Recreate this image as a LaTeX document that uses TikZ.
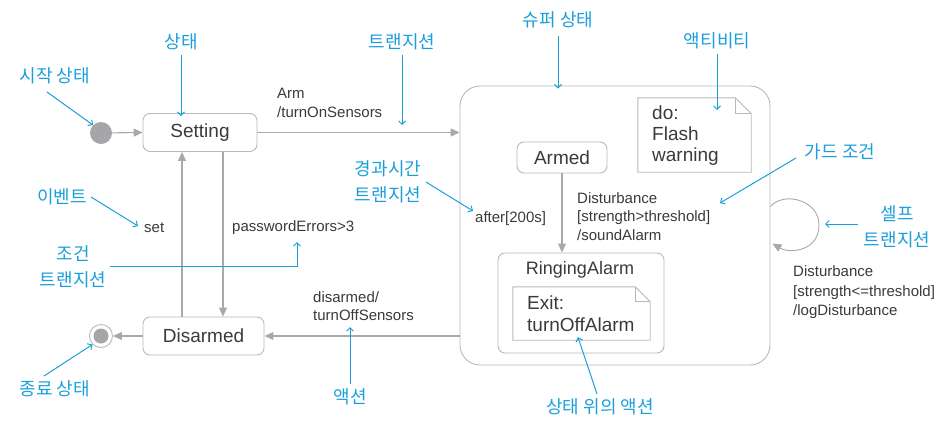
\documentclass[tikz,border=0pt]{standalone}
\usepackage{fontspec}
\setmainfont{Liberation Sans}
\newfontfamily\kr{Noto Sans CJK KR}
\usetikzlibrary{arrows.meta,calc}
\definecolor{linegray}{HTML}{A9A9AB}
\definecolor{boxgray}{HTML}{B8B8BA}
\definecolor{ink}{HTML}{3A3A3A}
\definecolor{callout}{HTML}{1B9FDB}
\definecolor{dotgray}{HTML}{A6A6A8}

\begin{document}
\begin{tikzpicture}[x=1pt,y=-1pt,
  statebox/.style={draw=boxgray, line width=0.9pt, rounded corners=7pt, text=ink,
    font=\fontsize{19}{22}\selectfont, inner sep=0pt},
  notebox/.style={draw=none, inner sep=0pt},
  notetext/.style={text=ink, font=\fontsize{19}{22}\selectfont, align=left, anchor=west, inner sep=0pt},
  flow/.style={draw=linegray, line width=1.1pt, -{Triangle[length=9pt,width=8pt]}},
  lbl/.style={text=ink, font=\fontsize{15}{18.5}\selectfont, align=left, anchor=west, inner sep=0pt},
  call/.style={text=callout, font=\kr\fontsize{18}{26}\selectfont, align=center, inner sep=0pt},
  point/.style={draw=callout, line width=1pt, -{Straight Barb[length=3.5pt,width=7pt]}},
]
\useasboundingbox (0,0) rectangle (942,421);

% ---- states ----
\node[circle, fill=dotgray, minimum size=22pt, inner sep=0pt] (init) at (101,133) {};
\node[statebox, minimum width=114pt, minimum height=38pt] (setting) at (200,132.5) {Setting};
\node[statebox, minimum width=121pt, minimum height=38pt] (disarmed) at (203.5,336) {Disarmed};
\node[circle, draw=boxgray, line width=0.9pt, minimum size=23pt, inner sep=0pt] (final) at (101,336) {};
\node[circle, fill=dotgray, minimum size=15pt, inner sep=0pt] (finaldot) at (final) {};

% super state and its contents
\node[draw=boxgray, line width=0.9pt, rounded corners=20pt, minimum width=310pt,
  minimum height=279pt, inner sep=0pt] (super) at (615,225.5) {};
\node[statebox, minimum width=90pt, minimum height=31pt] (armed) at (562,157.5) {Armed};
\node[draw=boxgray, line width=0.9pt, rounded corners=7pt, minimum width=166pt,
  minimum height=100pt, inner sep=0pt] (ring) at (581,303) {};
\node[text=ink, font=\fontsize{18}{22}\selectfont, inner sep=0pt] (ringtitle) at (580,270) {RingingAlarm};

% activity note (dog-eared corner)
\node[notebox, minimum width=113pt, minimum height=74pt] (act) at (694.5,135) {};
\draw[boxgray, line width=0.9pt] (act.south west) -- (act.north west)
  -- ([xshift=-16pt]act.north east) -- ([yshift=-16pt]act.north east)
  -- (act.south east) -- cycle;
\draw[boxgray, line width=0.9pt] ([xshift=-16pt]act.north east) |- ([yshift=-16pt]act.north east);
\node[notetext, font=\fontsize{19}{21}\selectfont] (acttext) at (652,136) {do:\\Flash\\warning};

% exit note (dog-eared corner)
\node[notebox, minimum width=137pt, minimum height=53pt] (exitn) at (581.5,313.5) {};
\draw[boxgray, line width=0.9pt] (exitn.south west) -- (exitn.north west)
  -- ([xshift=-15pt]exitn.north east) -- ([yshift=-15pt]exitn.north east)
  -- (exitn.south east) -- cycle;
\draw[boxgray, line width=0.9pt] ([xshift=-15pt]exitn.north east) |- ([yshift=-15pt]exitn.north east);
\node[notetext] (exittext) at (527,314) {Exit:\\turnOffAlarm};

% ---- transitions ----
\draw[flow] (init) -- (setting.west);
\draw[flow] (setting.east) -- (setting -| super.west);
\draw[flow] ([xshift=23pt]setting.south) -- ([xshift=23pt]setting.south |- disarmed.north);
\draw[flow] ([xshift=-18pt]setting.south |- disarmed.north) -- ([xshift=-18pt]setting.south);
\draw[flow] (super.west |- disarmed) -- (disarmed.east);
\draw[flow] (disarmed.west) -- (final);
\draw[flow] (armed.south) -- (armed |- ring.north);
\coordinate (loopout) at ($(super.east)+(0,-19)$);
\coordinate (loopin) at ($(super.east)+(2,18)$);
\draw[flow, line width=0.9pt] (loopout) .. controls (784,191) and (819,200) .. (819,225)
  .. controls (819,251) and (790,254) .. (loopin);

% transition labels
\node[lbl] (armlbl) at (277,103) {Arm\\/turnOnSensors};
\node[lbl] (setlbl) at (144,228) {set};
\node[lbl] (pwlbl) at (232,228) {passwordErrors>3};
\node[lbl] (offlbl) at (313,306) {disarmed/\\turnOffSensors};
\node[lbl] (afterlbl) at (475,219) {after[200s]};
\node[lbl] (distlbl) at (577,216.5) {Disturbance\\{[strength>threshold]}\\/soundAlarm};
\node[lbl, font=\fontsize{15}{19.5}\selectfont] (selflbl) at (793,292.5) {Disturbance\\{[strength<=threshold]}\\/logDisturbance};

% ---- callouts ----
\node[call] (cStart) at (55,76) {시작 상태};
\node[call] (cState) at (181,42) {상태};
\node[call] (cTrans) at (402,42) {트랜지션};
\node[call] (cSuper) at (558,20) {슈퍼 상태};
\node[call] (cAct) at (717,41) {액티비티};
\node[call] (cGuard) at (840,152) {가드 조건};
\node[call] (cTime) at (388,182) {경과시간\\트랜지션};
\node[call] (cEvent) at (62,197) {이벤트};
\node[call] (cCond) at (73,267) {조건\\트랜지션};
\node[call] (cSelf) at (897,227) {셀프\\트랜지션};
\node[call] (cEnd) at (55,389) {종료 상태};
\node[call] (cAction) at (350,397) {액션};
\node[call] (cOnState) at (600,407) {상태 위의 액션};

\draw[point] (47,92) -- (init.north west);
\draw[point] (cState.south) ++(0,5) -- ([yshift=-3pt]setting.north -| cState);
\draw[point] (cTrans.south) ++(0,5) -- (402,125);
\draw[point] (cSuper.south) ++(0,8) -- ([yshift=-3pt]super.north -| cSuper);
\draw[point] (cAct.south) ++(0,5) -- (717,110);
\draw[point] (796,158) -- (720,203);
\draw[point] (426,182) -- ([shift={(-2,-8)}]afterlbl.west);
\draw[point] (cEvent.east) ++(4,0) -- ([shift={(-6,-2)}]setlbl.west);
\draw[point] (110,266) -| (297,242);
\draw[point] (858,224) -- (825,224);
\draw[point] (44,376) -- (final.south west);
\draw[point] (cAction.north) ++(0,-5) -- (350,327);
\draw[point] (597,394) -- ([yshift=3pt]exitn.south -| 578,0);
\end{tikzpicture}
\end{document}
